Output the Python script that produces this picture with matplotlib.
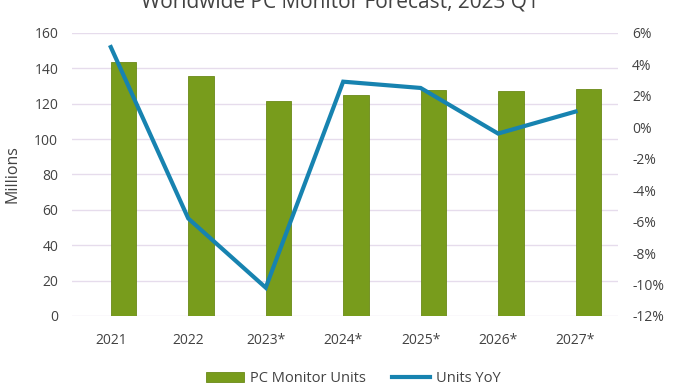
import matplotlib
matplotlib.use('Agg')
import matplotlib.pyplot as plt
from matplotlib.ticker import FuncFormatter

years = ['2021', '2022', '2023*', '2024*', '2025*', '2026*', '2027*']
units = [143.5, 135.5, 121.3, 124.8, 128.0, 127.2, 128.2]
yoy = [5.1, -5.8, -10.2, 2.9, 2.5, -0.4, 1.0]

plt.rcParams['font.family'] = ['Open Sans', 'DejaVu Sans']
text_col = '#424242'
grid_col = '#e6dcec'

fig = plt.figure(figsize=(6.8, 3.92), dpi=100)
ax = fig.add_axes([0.106, 0.194, 0.803, 0.722])
ax2 = ax.twinx()

x = list(range(len(years)))
ax.bar(x, units, width=0.33, align='edge', color='#789c1c', edgecolor='#6a8a17',
       linewidth=0.6, label='PC Monitor Units', zorder=2)
ax2.plot(x, [v / 100 for v in yoy], color='#1783b0', linewidth=3, label='Units YoY',
         solid_joinstyle='miter', zorder=3)

ax.set_xlim(-0.5, 6.55)
ax.set_ylim(0, 160)
ax.set_yticks(range(0, 161, 20))
ax2.set_ylim(-0.12, 0.06)
ax2.set_yticks([i / 100 for i in range(-12, 7, 2)])
ax2.yaxis.set_major_formatter(FuncFormatter(lambda v, p: '%d%%' % round(v * 100)))

ax.set_xticks(x)
ax.set_xticklabels(years)
ax.yaxis.grid(True, color=grid_col, linewidth=1, zorder=0)
ax.set_axisbelow(True)

for a in (ax, ax2):
    for s in a.spines.values():
        s.set_visible(False)
    a.tick_params(length=0, labelsize=10, colors=text_col)
ax.tick_params(axis='x', pad=12)
ax.tick_params(axis='y', pad=10)
ax2.tick_params(axis='y', pad=10)

ax.set_ylabel('Millions', fontsize=11.5, color=text_col, labelpad=10)
ax.set_zorder(1)
ax.patch.set_visible(False)
ax2.set_zorder(2)

fig.text(0.5, 0.982, 'Worldwide PC Monitor Forecast, 2023 Q1', ha='center', va='baseline',
         fontsize=15, color=text_col)

h1, l1 = ax.get_legend_handles_labels()
h2, l2 = ax2.get_legend_handles_labels()
fig.legend(h1 + h2, l1 + l2, loc='center', bbox_to_anchor=(0.52, 0.035), ncol=2,
           frameon=False, fontsize=10.5, labelcolor=text_col, handlelength=2.6,
           handletextpad=0.4, columnspacing=1.8)

fig.savefig('out.png', dpi=100)
